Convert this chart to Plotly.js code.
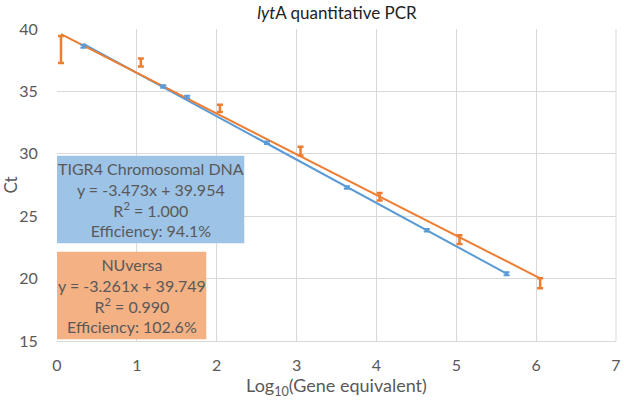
<!DOCTYPE html>
<html><head><meta charset="utf-8">
<script src="https://cdn.plot.ly/plotly-3.0.1.min.js"></script>
<style>body{margin:0;padding:0;background:#fff}#chart{width:624px;height:401px}</style>
</head><body><div id="chart"></div>
<script>
// TIGR4 Chromosomal DNA
const tigrX = [0.33, 1.33, 1.63, 2.63, 3.63, 4.63, 5.63];
const tigrY = [38.62, 35.40, 34.55, 30.88, 27.30, 23.88, 20.38];
const tigrErr = [0.12, 0.1, 0.1, 0.1, 0.1, 0.1, 0.12];
// NUversa
const nuX = [0.05, 1.05, 2.04, 3.05, 4.04, 5.04, 6.05];
const nuY = [38.35, 37.31, 33.64, 30.22, 26.55, 23.13, 19.62];
const nuErr = [1.08, 0.32, 0.3, 0.35, 0.3, 0.35, 0.4];
// Trend line equations
const tigrSlope = -3.473, tigrIntercept = 39.954;
const nuSlope = -3.261, nuIntercept = 39.749;
const tigrLabel = ["TIGR4 Chromosomal DNA", "y = -3.473x + 39.954", "R<sup>2</sup> = 1.000", "Efficiency: 94.1%"];
const nuLabel = ["NUversa", "y = -3.261x + 39.749", "R<sup>2</sup> = 0.990", "Efficiency: 102.6%"];
const xTicks = [0, 1, 2, 3, 4, 5, 6, 7];
const yTicks = [15, 20, 25, 30, 35, 40];

const blue = '#5B9BD5', orange = '#ED7D31';
const fit = (xs, m, b) => [xs[0], xs[xs.length-1]].map(v => m*v + b);
const ends = xs => [xs[0], xs[xs.length-1]];

const traces = [
  {x: ends(tigrX), y: fit(tigrX, tigrSlope, tigrIntercept), mode: 'lines', line: {color: blue, width: 2}, hoverinfo: 'skip'},
  {x: ends(nuX), y: fit(nuX, nuSlope, nuIntercept), mode: 'lines', line: {color: orange, width: 2}, hoverinfo: 'skip'},
  {x: tigrX, y: tigrY, mode: 'markers', marker: {color: blue, size: 3},
   error_y: {type: 'data', array: tigrErr, color: blue, thickness: 2, width: 3}},
  {x: nuX, y: nuY, mode: 'markers', marker: {color: orange, size: 1, opacity: 0},
   error_y: {type: 'data', array: nuErr, color: orange, thickness: 2.5, width: 3}}
];

const fontFam = 'Lato, "Open Sans", sans-serif';
const layout = {
  width: 624, height: 401,
  margin: {l: 57, r: 8, t: 29, b: 60},
  showlegend: false,
  paper_bgcolor: '#fff', plot_bgcolor: '#fff',
  font: {family: fontFam, color: '#595959', size: 16},
  title: {text: '<i>lyt</i>A quantitative PCR', x: 0.54, xanchor: 'center', y: 0.968, yanchor: 'middle',
          font: {family: fontFam, size: 17, color: '#222'}},
  xaxis: {range: [0, 7], tickvals: xTicks, ticktext: xTicks.map(String), showgrid: true, gridcolor: '#d9d9d9',
          zeroline: false, showline: true, linecolor: '#d9d9d9', ticks: 'outside', ticklen: 10, tickcolor: 'rgba(0,0,0,0)',
          tickfont: {size: 16, color: '#595959'},
          title: {text: 'Log<sub>10</sub>(Gene equivalent)', font: {size: 18, color: '#595959'}, standoff: 6}},
  yaxis: {range: [15, 40], tickvals: yTicks, ticktext: yTicks.map(String), showgrid: true, gridcolor: '#d9d9d9',
          zeroline: false, showline: false, ticks: 'outside', ticklen: 15, tickcolor: 'rgba(0,0,0,0)',
          tickfont: {size: 16, color: '#595959'},
          title: {text: 'Ct', font: {size: 17, color: '#595959'}, standoff: 4}},
  shapes: [
    {type: 'line', xref: 'paper', yref: 'paper', x0: 1, x1: 1, y0: 0, y1: 1, line: {color: '#d9d9d9', width: 1}},
    {type: 'rect', xref: 'paper', yref: 'paper', x0: 0, x1: 0.335, y0: 0.313, y1: 0.594,
     fillcolor: '#9DC3E6', line: {width: 0}, layer: 'above'},
    {type: 'rect', xref: 'paper', yref: 'paper', x0: 0, x1: 0.267, y0: 0.006, y1: 0.286,
     fillcolor: '#F4B183', line: {width: 0}, layer: 'above'}
  ],
  annotations: [
    {xref: 'paper', yref: 'paper', x: 0.1675, y: 0.4535, xanchor: 'center', yanchor: 'middle', showarrow: false,
     text: tigrLabel.join('<br>'), align: 'center', font: {size: 16, color: '#595959', family: fontFam}},
    {xref: 'paper', yref: 'paper', x: 0.1335, y: 0.146, xanchor: 'center', yanchor: 'middle', showarrow: false,
     text: nuLabel.join('<br>'), align: 'center', font: {size: 16, color: '#595959', family: fontFam}}
  ]
};
Plotly.newPlot('chart', traces, layout, {displayModeBar: false, staticPlot: true});
</script></body></html>
